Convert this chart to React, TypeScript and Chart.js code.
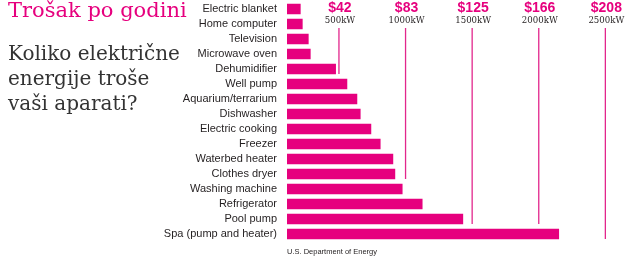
import { useEffect, useRef } from "react";
import { Chart, registerables } from "chart.js";

Chart.register(...registerables);

// Appliances, top to bottom
const categories = [
  "Electric blanket",
  "Home computer",
  "Television",
  "Microwave oven",
  "Dehumidifier",
  "Well pump",
  "Aquarium/terrarium",
  "Dishwasher",
  "Electric cooking",
  "Freezer",
  "Waterbed heater",
  "Clothes dryer",
  "Washing machine",
  "Refrigerator",
  "Pool pump",
  "Spa (pump and heater)",
];

// Yearly consumption per appliance (kW)
const usageKw = [
  210, 225, 270, 285, 475, 560, 635, 660, 740, 810, 905, 920, 975, 1125, 1430, 2150,
];

// Reference guides: consumption, yearly cost, and the row each guide line reaches down to
const guideKw = [500, 1000, 1500, 2000, 2500];
const guideCost = ["$42", "$83", "$125", "$166", "$208"];
const guideUnit = ["500kW", "1000kW", "1500kW", "2000kW", "2500kW"];
const guideStopsAt = [
  "Dehumidifier",
  "Clothes dryer",
  "Pool pump",
  "Pool pump",
  "Spa (pump and heater)",
];

const MAGENTA = "#e6007e";
const INK = "#231f20";
const BAR_THICKNESS = 10;

const guidePlugin = {
  id: "costGuides",
  afterDatasetsDraw(chart: any) {
    const { ctx, scales } = chart;
    const xs = scales.x;
    const ys = scales.y;
    ctx.save();
    guideKw.forEach((kw, i) => {
      const x = xs.getPixelForValue(kw);
      const row = categories.indexOf(guideStopsAt[i]);
      const yEnd = ys.getPixelForValue(row) + BAR_THICKNESS / 2;

      ctx.strokeStyle = "#e2268c";
      ctx.lineWidth = 1.3;
      ctx.beginPath();
      ctx.moveTo(x, 28);
      ctx.lineTo(x, yEnd);
      ctx.stroke();

      ctx.textAlign = "center";
      ctx.textBaseline = "alphabetic";
      ctx.fillStyle = MAGENTA;
      ctx.font = "bold 14px 'Liberation Sans', Arial, sans-serif";
      ctx.fillText(guideCost[i], x + 1, 12);

      ctx.fillStyle = INK;
      ctx.font = "8.6px 'DejaVu Serif', serif";
      ctx.fillText(guideUnit[i], x + 1, 23);
    });
    ctx.restore();
  },
};

export default function App() {
  const canvasRef = useRef<HTMLCanvasElement | null>(null);

  useEffect(() => {
    if (!canvasRef.current) return;
    const chart = new Chart(canvasRef.current, {
      type: "bar",
      data: {
        labels: categories,
        datasets: [
          {
            data: usageKw,
            backgroundColor: MAGENTA,
            borderWidth: 0,
            barThickness: BAR_THICKNESS,
          },
        ],
      },
      options: {
        indexAxis: "y",
        animation: false,
        responsive: false,
        devicePixelRatio: 1,
        layout: { padding: { left: 0, right: 8, top: 1.5, bottom: 14.5 } },
        plugins: {
          legend: { display: false },
          tooltip: { enabled: false },
        },
        scales: {
          x: {
            type: "linear",
            display: false,
            min: 110,
            max: 2700,
          },
          y: {
            grid: { display: false, drawTicks: false },
            border: { display: false },
            ticks: {
              autoSkip: false,
              padding: 10,
              color: INK,
              font: { family: "'Liberation Sans', Arial, sans-serif", size: 11 },
            },
            afterFit(scale: any) {
              scale.width = 287;
              scale.paddingTop = 0;
              scale.paddingBottom = 0;
            },
          },
        },
      },
      plugins: [guidePlugin],
    });
    return () => chart.destroy();
  }, []);

  return (
    <div
      style={{
        position: "fixed",
        left: 0,
        top: 0,
        width: 640,
        height: 256,
        background: "#ffffff",
        overflow: "hidden",
      }}
    >
      <canvas
        ref={canvasRef}
        width={640}
        height={256}
        style={{ position: "absolute", left: 0, top: 0, display: "block" }}
      />
      <div
        style={{
          position: "absolute",
          left: 8,
          top: 0,
          fontFamily: "'DejaVu Serif', serif",
          fontSize: 21,
          lineHeight: "20px",
          color: MAGENTA,
          whiteSpace: "nowrap",
        }}
      >
        Trošak po godini
      </div>
      <div
        style={{
          position: "absolute",
          left: 8,
          top: 40.5,
          fontFamily: "'DejaVu Serif', serif",
          fontSize: 20,
          lineHeight: "25px",
          color: "#333333",
          whiteSpace: "nowrap",
        }}
      >
        Koliko električne
        <br />
        energije troše
        <br />
        vaši aparati?
      </div>
      <div
        style={{
          position: "absolute",
          left: 287,
          top: 247,
          fontFamily: "'Liberation Sans', Arial, sans-serif",
          fontSize: 7.5,
          lineHeight: "10px",
          color: INK,
          whiteSpace: "nowrap",
        }}
      >
        U.S. Department of Energy
      </div>
    </div>
  );
}
